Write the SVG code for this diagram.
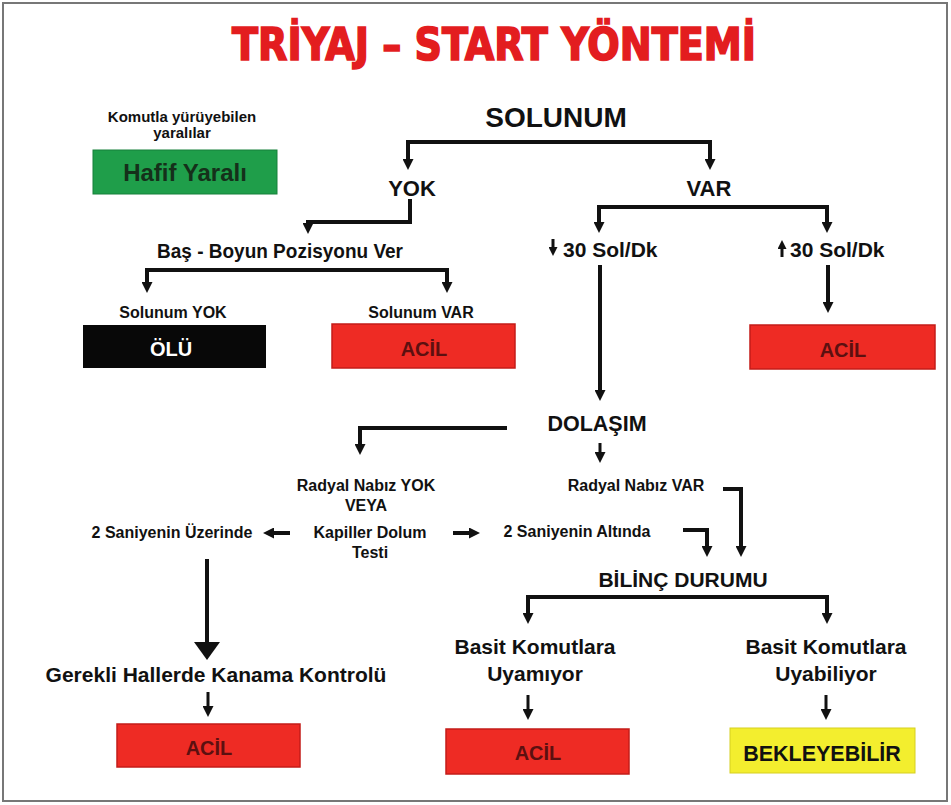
<svg xmlns="http://www.w3.org/2000/svg" width="951" height="805" viewBox="0 0 951 805">
<style>
  text { font-family: "Liberation Sans", Arial, sans-serif; font-weight: bold; fill: #111; text-anchor: middle; }
  .title { font-family: "DejaVu Sans Condensed", "DejaVu Sans", sans-serif; font-size: 45px; fill: #e31d1f; stroke: #e31d1f; stroke-width: 1.6; }
  .big { font-size: 28px; }
  .l22 { font-size: 22px; }
  .l21 { font-size: 21px; }
  .l20 { font-size: 20px; }
  .s16 { font-size: 16px; }
  .s15 { font-size: 15px; }
  .red { fill: #ee2b24; stroke: #c41c18; stroke-width: 1.5; }
  .acil { font-size: 20px; fill: #5c1010; }
  .conn { fill: none; stroke: #111; stroke-width: 4; }
  .thin { fill: none; stroke: #111; stroke-width: 3; }
</style>
<defs>
  <marker id="ah" viewBox="0 0 10 10" refX="0" refY="5" markerWidth="11" markerHeight="11" markerUnits="userSpaceOnUse" orient="auto-start-reverse">
    <path d="M0,0 L10,5 L0,10 z" fill="#111"/>
  </marker>
  <marker id="ahs" viewBox="0 0 10 10" refX="0" refY="5" markerWidth="9" markerHeight="9" markerUnits="userSpaceOnUse" orient="auto-start-reverse">
    <path d="M0,0 L10,5 L0,10 z" fill="#111"/>
  </marker>
  <marker id="ahb" viewBox="0 0 18 26" refX="0" refY="13" markerWidth="18" markerHeight="26" markerUnits="userSpaceOnUse" orient="auto">
    <path d="M0,0 L18,13 L0,26 z" fill="#111"/>
  </marker>
</defs>
<rect x="0" y="0" width="951" height="805" fill="#fff"/>
<rect x="3" y="3" width="944" height="798" fill="none" stroke="#777" stroke-width="2"/>

<g id="title"><text class="title" x="494" y="60" textLength="524" lengthAdjust="spacingAndGlyphs">TRİYAJ – START YÖNTEMİ</text></g>

<g id="connectors">
  <path class="conn" d="M408,159 V142 H710 V159" marker-start="url(#ah)" marker-end="url(#ah)"/>
  <path class="conn" d="M410,199 V222 H308 V223" marker-end="url(#ah)"/>
  <path class="conn" d="M147,282 V270 H447 V282" marker-start="url(#ah)" marker-end="url(#ah)"/>
  <path class="conn" d="M599,222 V207 H827 V222" marker-start="url(#ah)" marker-end="url(#ah)"/>
  <path class="conn" d="M600,265 V390" marker-end="url(#ah)"/>
  <path class="conn" d="M828,265 V302" marker-end="url(#ah)"/>
  <path class="thin" d="M600,443 V452" marker-end="url(#ah)"/>
  <path class="conn" d="M507,428 H360 V444" marker-end="url(#ah)"/>
  <path class="conn" d="M290,533 H274" marker-end="url(#ah)"/>
  <path class="conn" d="M453,533 H469" marker-end="url(#ah)"/>
  <path class="conn" d="M723,489 H741 V546" marker-end="url(#ah)"/>
  <path class="conn" d="M683,530 H707 V546" marker-end="url(#ah)"/>
  <path class="conn" d="M207,559 V642" marker-end="url(#ahb)"/>
  <path class="thin" d="M208,692 V706" marker-end="url(#ah)"/>
  <path class="conn" d="M528,613 V597 H827 V613" marker-start="url(#ah)" marker-end="url(#ah)"/>
  <path class="thin" d="M528,695 V709" marker-end="url(#ah)"/>
  <path class="thin" d="M826,695 V709" marker-end="url(#ah)"/>
</g>

<g id="hafif">
  <text class="s15" x="182" y="122">Komutla yürüyebilen</text>
  <text class="s15" x="182" y="138">yaralılar</text>
  <rect x="93" y="150" width="184" height="44" fill="#1f9e4a" stroke="#17803a" stroke-width="1"/>
  <text x="185" y="181" style="fill:#15301a;font-size:24px">Hafif Yaralı</text>
</g>
<g id="solunum"><text class="big" x="556" y="127">SOLUNUM</text></g>
<g id="yok"><text class="l22" x="412" y="196">YOK</text></g>
<g id="var"><text class="l22" x="709" y="196">VAR</text></g>
<g id="bas"><text class="l21" x="280" y="258" textLength="246" lengthAdjust="spacingAndGlyphs">Baş - Boyun Pozisyonu Ver</text></g>
<g id="sol-alt">
  <path class="thin" d="M553,239 V247" marker-end="url(#ahs)"/>
  <text class="l21" x="563" y="257" style="text-anchor:start">30 Sol/Dk</text>
</g>
<g id="sol-ust">
  <path class="thin" d="M782,257 V249" marker-end="url(#ahs)"/>
  <text class="l21" x="790" y="257" style="text-anchor:start">30 Sol/Dk</text>
</g>
<g id="olu">
  <text class="s16" x="173" y="318">Solunum YOK</text>
  <rect x="83" y="325" width="183" height="43" fill="#080808"/>
  <text class="l20" x="171" y="356" style="fill:#fff">ÖLÜ</text>
</g>
<g id="acil1">
  <text class="s16" x="421" y="318">Solunum VAR</text>
  <rect class="red" x="332" y="324" width="183" height="44"/>
  <text class="acil" x="424" y="356">ACİL</text>
</g>
<g id="acil2">
  <rect class="red" x="750" y="325" width="185" height="44"/>
  <text class="acil" x="843" y="357">ACİL</text>
</g>
<g id="dolasim"><text class="l20" x="597" y="431" style="font-size:21.5px">DOLAŞIM</text></g>
<g id="nabiz-yok">
  <text class="s16" x="366" y="491">Radyal Nabız YOK</text>
  <text class="s16" x="366" y="511">VEYA</text>
  <text class="s16" x="370" y="538">Kapiller Dolum</text>
  <text class="s16" x="370" y="558">Testi</text>
</g>
<g id="uzerinde"><text class="s16" x="172" y="538">2 Saniyenin Üzerinde</text></g>
<g id="altinda"><text class="s16" x="577" y="537">2 Saniyenin Altında</text></g>
<g id="nabiz-var"><text class="s16" x="636" y="491">Radyal Nabız VAR</text></g>
<g id="bilinc"><text class="l21" x="683" y="587">BİLİNÇ DURUMU</text></g>
<g id="kanama"><text class="l21" x="216" y="682">Gerekli Hallerde Kanama Kontrolü</text></g>
<g id="acil3">
  <rect class="red" x="117" y="724" width="183" height="43"/>
  <text class="acil" x="209" y="755">ACİL</text>
</g>
<g id="uyamiyor">
  <text class="l21" x="535" y="654">Basit Komutlara</text>
  <text class="l21" x="535" y="681">Uyamıyor</text>
</g>
<g id="acil4">
  <rect class="red" x="446" y="729" width="183" height="45"/>
  <text class="acil" x="538" y="760">ACİL</text>
</g>
<g id="uyabiliyor">
  <text class="l21" x="826" y="654">Basit Komutlara</text>
  <text class="l21" x="826" y="681">Uyabiliyor</text>
</g>
<g id="bekleyebilir">
  <rect x="730" y="728" width="185" height="45" fill="#f3ee2e" stroke="#d6cf20" stroke-width="1"/>
  <text x="822" y="761" style="font-size:21.5px">BEKLEYEBİLİR</text>
</g>
</svg>
